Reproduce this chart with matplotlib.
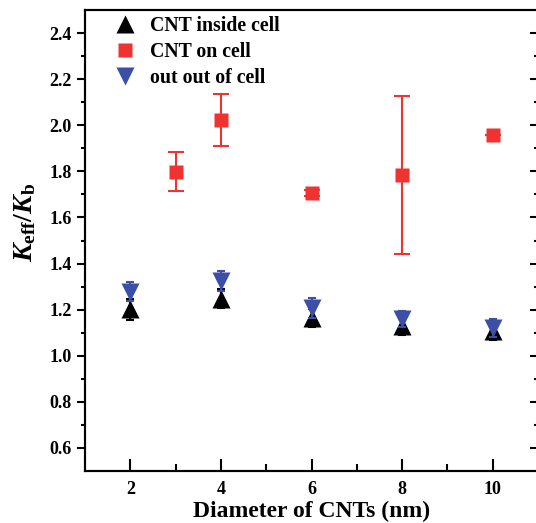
import numpy as np
import matplotlib.pyplot as plt

plt.rcParams.update({
    'font.family': 'Liberation Serif',
    'font.weight': 'bold',
    'axes.labelweight': 'bold',
    'mathtext.fontset': 'custom',
    'mathtext.rm': 'Liberation Serif:bold',
    'mathtext.it': 'Liberation Serif:bold:italic',
    'mathtext.bf': 'Liberation Serif:bold',
    'axes.linewidth': 1.5,
})

# data
d_inside = [2, 4, 6, 8, 10]
k_inside = [1.202, 1.248, 1.164, 1.130, 1.109]
e_inside = [0.045, 0.042, 0.040, 0.038, 0.042]

d_on = [3, 4, 6, 8, 10]
k_on = [1.798, 2.023, 1.707, 1.785, 1.958]
e_on = [0.084, 0.111, 0.012, 0.342, 0.0]

d_out = [2, 4, 6, 8, 10]
k_out = [1.278, 1.326, 1.207, 1.159, 1.119]
e_out = [0.040, 0.043, 0.042, 0.036, 0.039]

red = '#ee3331'
blue = '#3b4fa6'

fig = plt.figure(figsize=(5.36, 5.23), dpi=100)
ax = fig.add_axes([85 / 536, 52 / 523, 453 / 536, 461 / 523])

ax.errorbar(d_on, k_on, yerr=e_on, fmt='none', ecolor=red, elinewidth=1.5,
            capsize=5.5, capthick=1.5)
ax.errorbar(d_inside, k_inside, yerr=e_inside, fmt='none', ecolor='black',
            elinewidth=1.5, capsize=3, capthick=1.5)
ax.plot(d_inside, k_inside, '^', color='black', ms=13, mec='none',
        label='CNT inside cell')
ax.plot(d_on, k_on, 's', color=red, ms=9.5, mec='none', label='CNT on cell')
ax.errorbar(d_out, k_out, yerr=e_out, fmt='none', ecolor=blue,
            elinewidth=1.5, capsize=3, capthick=1.5)
ax.plot(d_out, k_out, 'v', color=blue, ms=13, mec='none',
        label='out out of cell')

ax.set_xlim(1, 11)
ax.set_ylim(0.5, 2.5)
ax.set_xticks([2, 4, 6, 8, 10])
ax.set_xticks([3, 5, 7, 9], minor=True)
ax.set_yticks(np.arange(0.6, 2.41, 0.2))
ax.set_yticks(np.arange(0.7, 2.41, 0.2), minor=True)
ax.set_yticklabels(['%.1f' % v for v in np.arange(0.6, 2.41, 0.2)])

ax.tick_params(axis='x', which='both', direction='in', top=False, labelsize=13,
               pad=7)
ax.tick_params(axis='x', which='major', length=9, width=1.5)
ax.tick_params(axis='x', which='minor', length=5, width=1.5)
ax.tick_params(axis='y', which='both', direction='out', right=False,
               labelsize=13)
ax.tick_params(axis='y', which='major', length=6, width=1.5)
ax.tick_params(axis='y', which='minor', length=3, width=1.5)

# inward ticks on the right side
ax2 = ax.twinx()
ax2.set_ylim(ax.get_ylim())
ax2.set_yticks(ax.get_yticks())
ax2.set_yticks(np.arange(0.7, 2.41, 0.2), minor=True)
ax2.tick_params(axis='y', which='both', direction='in', labelright=False,
                width=1.5)
ax2.tick_params(axis='y', which='major', length=6)
ax2.tick_params(axis='y', which='minor', length=3)

ax.set_xlabel('Diameter of CNTs (nm)', fontsize=17, labelpad=2)
ax.set_ylabel(r'$\mathit{K}_{\mathrm{eff}}/\mathit{K}_{\mathrm{b}}$',
              fontsize=20)
ax.yaxis.set_label_coords(-0.104, 0.54)

ax.legend(loc='upper left', bbox_to_anchor=(0.038, 1.005), frameon=False,
          fontsize=14.3, handlelength=1.5, handletextpad=0.5,
          labelspacing=0.32, borderaxespad=0)

fig.savefig('out.png', dpi=100)
